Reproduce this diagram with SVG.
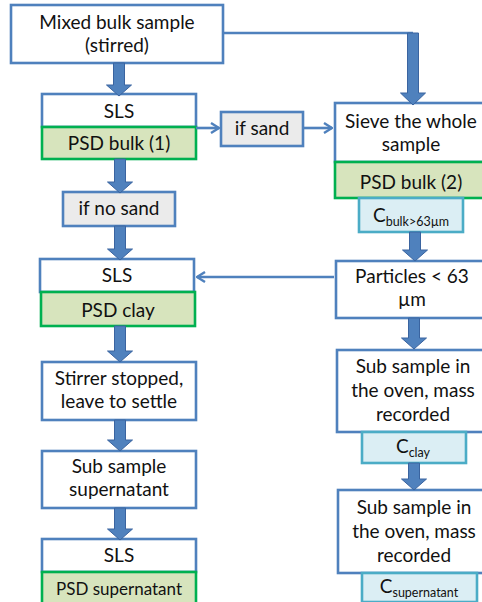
<svg xmlns="http://www.w3.org/2000/svg" width="482" height="602" viewBox="0 0 482 602">
<style>
  .box { fill: #FFFFFF; stroke: #4F81BD; stroke-width: 2.6; }
  .grey { fill: #EBEBEB; stroke: #4F81BD; stroke-width: 2.6; }
  .green { fill: #D7E4BD; stroke: #00B050; stroke-width: 2.6; }
  .cyan { fill: #DBEEF4; stroke: #4BACC6; stroke-width: 2.6; }
  text { font-family: Lato, "Open Sans", "Liberation Sans", sans-serif; font-size: 19px; fill: #111111; text-anchor: middle; }
  .sub { font-size: 12.5px; }
  .small { font-size: 17px; }
  .blk { fill: #4F81BD; stroke: #3A64A0; stroke-width: 1; }
  .thin { fill: none; stroke: #4F81BD; stroke-width: 2.6; }
</style>
<defs>
  <marker id="chev" viewBox="0 0 10 12" refX="9" refY="6" markerWidth="10" markerHeight="12" markerUnits="userSpaceOnUse" orient="auto">
    <path d="M1,1 L9,6 L1,11" fill="none" stroke="#4F81BD" stroke-width="2.4"/>
  </marker>
</defs>
<rect width="482" height="602" fill="#FFFFFF"/>

<g id="mixed">
  <rect class="box" x="11" y="5" width="212" height="58"/>
  <text x="117" y="29">Mixed bulk sample</text>
  <text x="117" y="52">(stirred)</text>
</g>
<g id="sls1">
  <rect class="box" x="42" y="94" width="154" height="33"/>
  <text x="119" y="118">SLS</text>
</g>
<g id="psdbulk1">
  <rect class="green" x="42" y="127" width="154" height="32"/>
  <text x="119" y="150">PSD bulk (1)</text>
</g>
<g id="ifsand">
  <rect class="grey" x="221" y="112" width="82" height="34"/>
  <text x="262" y="135">if sand</text>
</g>
<g id="sieve">
  <rect class="box" x="335" y="103" width="155" height="59"/>
  <text x="411" y="128">Sieve the whole</text>
  <text x="411" y="151">sample</text>
</g>
<g id="psdbulk2">
  <rect class="green" x="335" y="162" width="155" height="36"/>
  <text x="411" y="189">PSD bulk (2)</text>
</g>
<g id="cbulk">
  <rect class="cyan" x="359" y="198" width="104" height="34"/>
  <text x="411" y="222">C<tspan class="sub" dy="4">bulk&gt;63µm</tspan></text>
</g>
<g id="ifnosand">
  <rect class="grey" x="63" y="192" width="112" height="34"/>
  <text x="119" y="215">if no sand</text>
</g>
<g id="sls2">
  <rect class="box" x="40" y="259" width="154" height="33"/>
  <text x="117" y="282">SLS</text>
</g>
<g id="psdclay">
  <rect class="green" x="41" y="292" width="154" height="34"/>
  <text x="118" y="317">PSD clay</text>
</g>
<g id="particles">
  <rect class="box" x="336" y="261" width="154" height="57"/>
  <text x="412" y="283">Particles &lt; 63</text>
  <text x="412" y="306">µm</text>
</g>
<g id="stirrer">
  <rect class="box" x="42" y="362" width="154" height="58"/>
  <text x="119" y="385">Stirrer stopped,</text>
  <text x="119" y="408">leave to settle</text>
</g>
<g id="oven1">
  <rect class="box" x="337" y="350" width="153" height="82"/>
  <text x="413" y="373">Sub sample in</text>
  <text x="413" y="397">the oven, mass</text>
  <text x="413" y="421">recorded</text>
</g>
<g id="cclay">
  <rect class="cyan" x="362" y="432" width="104" height="31"/>
  <text x="413" y="453">C<tspan class="sub" dy="4">clay</tspan></text>
</g>
<g id="subsuper">
  <rect class="box" x="42" y="451" width="154" height="57"/>
  <text x="119" y="473">Sub sample</text>
  <text x="119" y="496">supernatant</text>
</g>
<g id="oven2">
  <rect class="box" x="338" y="490" width="152" height="83"/>
  <text x="414" y="514">Sub sample in</text>
  <text x="414" y="538">the oven, mass</text>
  <text x="414" y="562">recorded</text>
</g>
<g id="csuper">
  <rect class="cyan" x="362" y="573" width="115" height="29"/>
  <text x="419" y="593">C<tspan class="sub" dy="4">supernatant</tspan></text>
</g>
<g id="sls3">
  <rect class="box" x="42" y="539" width="154" height="33"/>
  <text x="119" y="562">SLS</text>
</g>
<g id="psdsuper">
  <rect class="green" x="42" y="572" width="154" height="34"/>
  <text class="small" x="119" y="595">PSD supernatant</text>
</g>

<g id="connectors">
  <path class="thin" d="M223,33 H413"/>
  <path class="blk" d="M113.5,63 h11 v22 h7 l-12.5,11 l-12.5,-11 h7 z"/>
  <path class="blk" d="M407.5,33 h11 v60 h7 l-12.5,12 l-12.5,-12 h7 z"/>
  <path class="blk" d="M114.5,159 h11 v23 h7 l-12.5,11 l-12.5,-11 h7 z"/>
  <path class="blk" d="M114.5,226 h11 v23 h7 l-12.5,11 l-12.5,-11 h7 z"/>
  <path class="blk" d="M114.5,326 h11 v25 h7 l-12.5,11 l-12.5,-11 h7 z"/>
  <path class="blk" d="M114.5,420 h11 v20 h7 l-12.5,11 l-12.5,-11 h7 z"/>
  <path class="blk" d="M114.5,508 h11 v21 h7 l-12.5,11 l-12.5,-11 h7 z"/>
  <path class="blk" d="M409.5,232 h11 v18 h7 l-12.5,11 l-12.5,-11 h7 z"/>
  <path class="blk" d="M408.5,318 h11 v20 h7 l-12.5,11 l-12.5,-11 h7 z"/>
  <path class="blk" d="M408.5,463 h11 v16 h7 l-12.5,11 l-12.5,-11 h7 z"/>
  <path class="thin" d="M196,128 H219" marker-end="url(#chev)"/>
  <path class="thin" d="M303,128 H332" marker-end="url(#chev)"/>
  <path class="thin" d="M334,277 H197" marker-end="url(#chev)"/>
</g>
</svg>
